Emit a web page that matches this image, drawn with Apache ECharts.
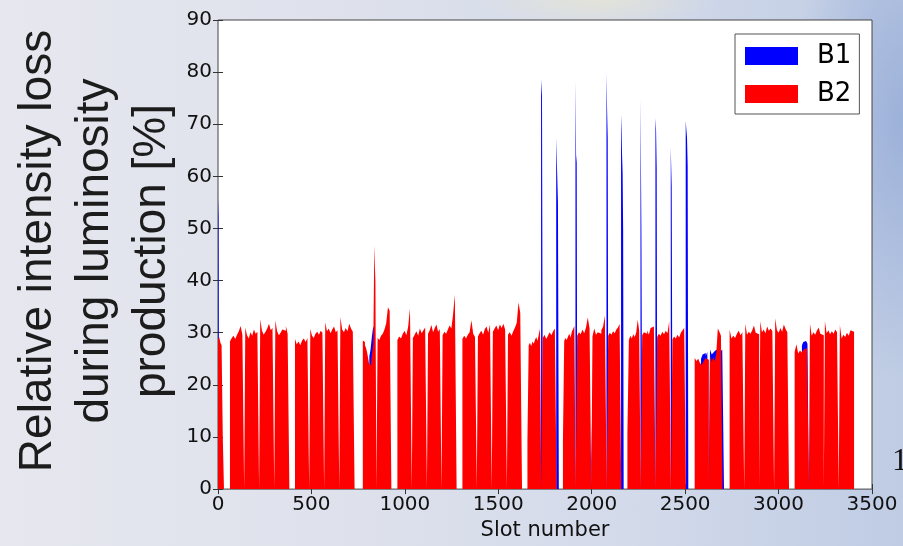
<!DOCTYPE html>
<html>
<head>
<meta charset="utf-8">
<script src="https://cdn.jsdelivr.net/npm/echarts@6.0.0/dist/echarts.min.js"></script>
<style>
  html, body { margin: 0; padding: 0; }
  body {
    width: 903px; height: 546px; overflow: hidden;
    background:
      radial-gradient(ellipse 110px 260px at 100% 22%, rgba(150,172,215,0.85), rgba(150,172,215,0) 100%),
      radial-gradient(ellipse 120px 30px at 66% 0%, rgba(236,232,205,0.6), rgba(236,232,205,0) 100%),
      linear-gradient(90deg, #e6e7ef 0%, #dfe2ec 35%, #d3daea 70%, #bfcce4 100%);
  }
  #chart { width: 903px; height: 546px; }
</style>
</head>
<body>
<div id="chart"></div>
<script>
// slot range and ticks
const xTicks = [0, 500, 1000, 1500, 2000, 2500, 3000, 3500];
const yTicks = [0, 10, 20, 30, 40, 50, 60, 70, 80, 90];

// B2 batches: [first slot, last slot, loss [%] per bin across the batch]
const b2Batches = [
  [0, 32, [28.6, 29.2, 28.1, 27.6, 10.0]],
  [64, 140, [28.3, 29.0, 29.4, 28.8, 29.6, 30.3, 31.3, 29.6]],
  [146, 220, [31.0, 29.5, 28.9, 30.1, 29.4, 30.6, 29.8, 30.2]],
  [226, 301, [32.6, 30.4, 29.6, 30.2, 30.8, 31.7, 30.5, 30.9]],
  [307, 382, [32.4, 30.3, 29.5, 30.0, 30.6, 30.4, 31.3, 29.8]],
  [412, 488, [28.8, 27.8, 28.3, 27.6, 28.5, 28.9, 28.2, 29.0]],
  [494, 568, [30.7, 29.4, 29.0, 29.8, 30.2, 29.6, 30.4, 30.0]],
  [574, 649, [32.0, 30.3, 30.8, 29.9, 30.6, 31.2, 30.1, 30.5]],
  [655, 731, [33.0, 30.6, 30.1, 30.9, 30.3, 31.7, 30.8, 30.2]],
  [775, 848, [28.5, 28.2, 27.6, 27.1, 26.3, 25.2, 24.0, 23.8, 24.6, 26.2, 28.0, 46.7, 39.7]],
  [854, 928, [29.0, 28.6, 29.4, 29.8, 30.6, 31.8, 34.9, 34.2]],
  [960, 1037, [28.6, 29.3, 28.9, 29.8, 30.4, 29.5, 31.2, 34.7]],
  [1043, 1118, [29.0, 29.6, 30.3, 29.4, 30.8, 29.9, 30.5, 31.0]],
  [1124, 1196, [29.8, 30.5, 31.5, 30.1, 30.9, 31.6, 30.2, 30.7]],
  [1202, 1277, [29.5, 30.2, 29.8, 30.6, 31.4, 30.8, 33.6, 37.3]],
  [1308, 1385, [28.8, 29.4, 28.9, 29.6, 30.1, 32.4, 29.8, 29.2]],
  [1391, 1465, [29.3, 29.9, 30.4, 29.6, 30.7, 31.2, 30.0, 31.6]],
  [1471, 1546, [30.2, 30.8, 31.4, 30.5, 31.6, 30.9, 31.7, 30.6]],
  [1552, 1627, [29.6, 30.1, 29.4, 30.3, 31.0, 31.9, 35.8, 33.8]],
  [1656, 1730, [9.3, 27.6, 28.1, 27.4, 28.3, 27.9, 28.6, 29.2, 28.4, 29.6, 30.8]],
  [1738, 1812, [29.0, 29.6, 28.8, 29.4, 30.1, 29.5, 30.3, 30.8]],
  [1846, 1914, [9.3, 28.4, 29.0, 28.6, 29.3, 29.8, 29.1, 30.2, 30.7, 31.3]],
  [1922, 1998, [29.4, 30.1, 29.7, 30.6, 29.9, 31.0, 32.9, 30.8]],
  [2004, 2080, [29.3, 30.8, 29.6, 30.1, 29.8, 30.5, 31.2, 33.3]],
  [2088, 2158, [29.4, 30.0, 29.6, 30.3, 29.9, 30.6, 31.0, 31.7]],
  [2191, 2262, [10.6, 28.6, 29.4, 28.9, 29.7, 29.2, 30.1, 32.5, 30.4]],
  [2270, 2342, [29.5, 30.1, 29.8, 30.5, 29.6, 30.9, 31.2, 30.4]],
  [2350, 2424, [29.2, 29.8, 29.4, 30.2, 29.7, 30.4, 29.9, 32.2]],
  [2432, 2504, [28.7, 29.3, 28.9, 29.6, 29.1, 30.0, 30.5, 30.9]],
  [2551, 2627, [25.2, 24.6, 25.0, 24.2, 23.8, 24.5, 25.1, 24.8]],
  [2633, 2700, [25.6, 24.4, 25.2, 24.6, 26.0, 30.8, 30.2, 29.4]],
  [2738, 2816, [30.6, 28.9, 29.4, 29.0, 29.8, 30.4, 29.5, 30.1]],
  [2822, 2896, [31.7, 29.6, 30.2, 29.8, 30.5, 31.4, 30.0, 29.7]],
  [2902, 2976, [32.2, 30.1, 30.6, 29.9, 31.2, 30.4, 30.8, 30.3]],
  [2982, 3056, [32.8, 30.5, 30.0, 30.9, 30.2, 31.6, 30.7, 30.1]],
  [3086, 3162, [26.3, 27.8, 26.0, 26.6, 26.2, 26.8, 27.0, 27.3]],
  [3168, 3242, [31.7, 29.4, 30.1, 29.6, 30.4, 31.0, 29.8, 29.5]],
  [3248, 3322, [32.2, 29.9, 30.5, 29.7, 30.3, 29.8, 30.6, 30.1]],
  [3328, 3404, [31.5, 28.9, 29.6, 29.2, 30.0, 29.4, 30.5, 30.2]]
];

// B1 where it shows above B2 (spikes at batch edges etc.)
const b1Batches = [
  [0, 6, [55.8, 52.2]],
  [810, 842, [25.5, 26.8, 29.0, 30.8, 31.3]],
  [1729, 1739, [78.6, 75.4]],
  [1810, 1824, [67.4, 67.2, 55.0]],
  [1913, 1923, [78.4, 64.1, 62.6]],
  [1998, 2004, [12.9]],
  [2079, 2089, [79.9, 72.6, 67.4]],
  [2157, 2171, [71.8, 68.9, 63.9, 60.7, 49.7]],
  [2261, 2271, [74.8, 49.2]],
  [2341, 2351, [71.2, 68.9, 61.7]],
  [2423, 2433, [65.6, 58.2]],
  [2503, 2517, [70.6, 69.0, 67.4, 62.0]],
  [2585, 2627, [25.0, 25.8, 26.1, 25.6, 26.3]],
  [2633, 2708, [26.8, 25.8, 26.2, 26.6, 26.9, 26.0, 26.4, 26.8]],
  [3125, 3162, [27.6, 28.2, 28.4, 28.1, 27.9]]
];

// histogram outline: each bin becomes a flat top with vertical sides
function toSteps(batches) {
  const pts = [];
  batches.forEach(([a, b, vals]) => {
    const w = (b - a) / vals.length;
    pts.push([a, 0]);
    vals.forEach((v, i) => {
      pts.push([a + i * w, v]);
      pts.push([a + (i + 1) * w, v]);
    });
    pts.push([b, 0]);
  });
  return pts;
}

const chart = echarts.init(document.getElementById('chart'));

const tickFont = { fontFamily: 'DejaVu Sans', fontSize: 20, color: '#111' };
const axisCommon = {
  type: 'value',
  axisLine: { show: false },
  axisTick: { inside: true, length: 5, lineStyle: { color: '#333' } },
  splitLine: { show: false }
};

function areaSeries(name, color, batches) {
  return {
    name: name,
    type: 'line',
    data: toSteps(batches),
    symbol: 'none',
    silent: true,
    animation: false,
    itemStyle: { color: color },
    lineStyle: { width: 0, color: color },
    areaStyle: { color: color, opacity: 1 }
  };
}

chart.setOption({
  animation: false,
  grid: {
    left: 218, top: 20, width: 654, height: 483,
    show: true, backgroundColor: '#fff', borderColor: '#444', borderWidth: 1
  },
  legend: {
    orient: 'vertical',
    left: 735, top: 34,
    data: ['B1', 'B2'],
    icon: 'rect',
    itemWidth: 53, itemHeight: 18, itemGap: 12,
    padding: [9, 8, 7, 10],
    backgroundColor: '#fff',
    borderColor: '#555', borderWidth: 1, borderRadius: 0,
    textStyle: { fontFamily: 'DejaVu Sans', fontSize: 26, color: '#000', padding: [0, 0, 0, 14] },
    selectedMode: false
  },
  xAxis: [
    Object.assign({}, axisCommon, {
      min: 0, max: 3500, interval: 500, position: 'bottom',
      axisLabel: Object.assign({ margin: 6, formatter: v => String(v) }, tickFont),
      name: 'Slot number', nameLocation: 'middle', nameGap: 30,
      nameTextStyle: { fontFamily: 'DejaVu Sans', fontSize: 21, color: '#111' }
    }),
    Object.assign({}, axisCommon, {
      min: 0, max: 3500, interval: 500, position: 'top',
      axisLabel: { show: false }
    })
  ],
  yAxis: [
    Object.assign({}, axisCommon, {
      min: 0, max: 90, interval: 10, position: 'left',
      axisLabel: Object.assign({ margin: 6, formatter: v => String(v) }, tickFont)
    }),
    Object.assign({}, axisCommon, {
      min: 0, max: 90, interval: 10, position: 'right',
      axisLabel: { show: false }
    })
  ],
  graphic: [
    {
      type: 'text', x: 95, y: 251, rotation: Math.PI / 2, silent: true,
      style: {
        text: 'Relative intensity loss\nduring luminosity\nproduction [%]',
        font: '46px "Liberation Sans"', fill: '#1c1c1c',
        textAlign: 'center', textVerticalAlign: 'middle', lineHeight: 57
      }
    },
    {
      type: 'text', x: 892, y: 446, silent: true,
      style: { text: '1', font: '32px "Liberation Serif"', fill: '#111' }
    }
  ],
  series: [
    areaSeries('B1', '#0000ff', b1Batches),
    areaSeries('B2', '#ff0000', b2Batches)
  ]
});
</script>
</body>
</html>
